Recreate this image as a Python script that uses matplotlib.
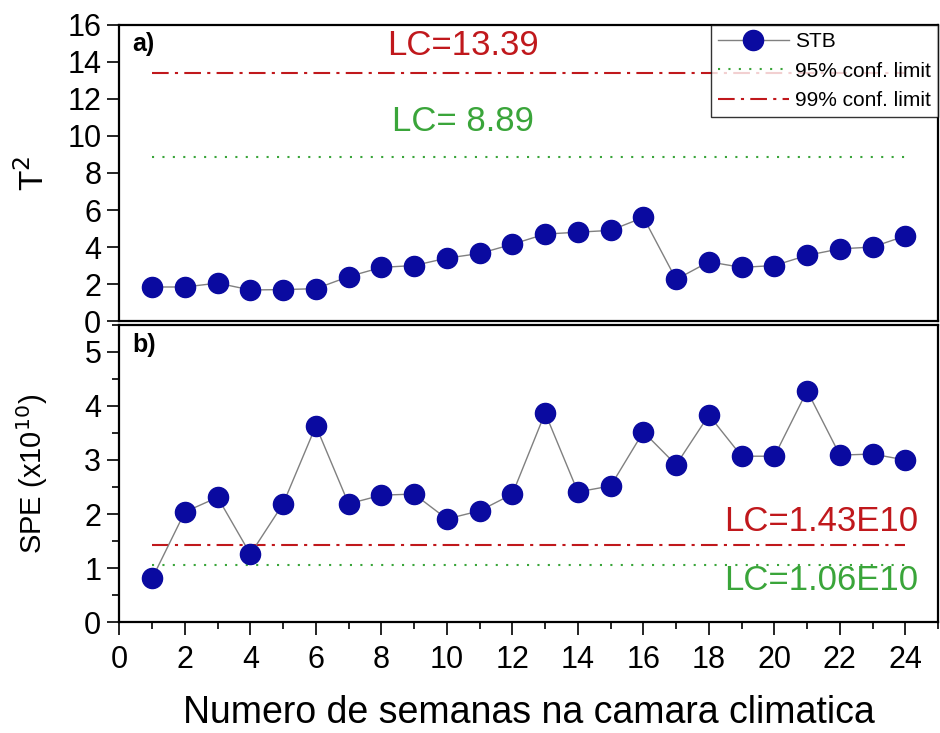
import matplotlib
matplotlib.use("Agg")
import matplotlib.pyplot as plt
from matplotlib.ticker import MultipleLocator

plt.rcParams['font.family'] = ['Liberation Sans', 'DejaVu Sans']

semanas = list(range(1, 25))
t2 = [1.84, 1.84, 2.05, 1.68, 1.70, 1.75, 2.40, 2.90, 3.00, 3.40, 3.65, 4.15,
      4.70, 4.80, 4.90, 5.60, 2.25, 3.20, 2.90, 3.00, 3.55, 3.90, 4.00, 4.60]
spe = [0.81, 2.04, 2.31, 1.26, 2.19, 3.63, 2.19, 2.35, 2.37, 1.91, 2.06, 2.37,
       3.87, 2.41, 2.52, 3.52, 2.91, 3.83, 3.07, 3.07, 4.28, 3.09, 3.11, 3.00]
lc_t2 = {'95': 8.89, '99': 13.39}
lc_spe = {'95': 1.06, '99': 1.43}

navy = '#0a0aa0'
red = '#c0181c'
green = '#3aa53a'

fig = plt.figure(figsize=(9.4, 7.33), dpi=100)
ax1 = fig.add_axes([0.127, 0.562, 0.871, 0.404])
ax2 = fig.add_axes([0.127, 0.151, 0.871, 0.406])

def style(ax):
    for s in ax.spines.values():
        s.set_linewidth(1.6)
    ax.tick_params(direction='out', width=1.2, length=9, labelsize=22, pad=4)
    ax.tick_params(which='minor', direction='out', width=1.2, length=5)
    ax.set_xlim(0, 25)

# a) T2
ax1.plot(semanas, t2, '-o', color='#808080', lw=1, mfc=navy, mec=navy, ms=14.5,
         label='STB', zorder=3)
ax1.plot([1, 24], [lc_t2['95']] * 2, ls=(0, (1, 4)), color=green, lw=1.5,
         label='95% conf. limit')
ax1.plot([1, 24], [lc_t2['99']] * 2, ls=(0, (8, 3, 1.5, 3)), color=red, lw=1.5,
         label='99% conf. limit')
style(ax1)
ax1.set_ylim(0, 16)
ax1.yaxis.set_major_locator(MultipleLocator(2))
ax1.set_xticks([])
ax1.set_ylabel('T$^2$', fontsize=24)
ax1.yaxis.set_label_coords(-0.083, 0.5)
ax1.text(0.4, 14.6, 'a)', fontsize=18, fontweight='bold')
ax1.text(10.5, 14.9, 'LC=13.39', color=red, fontsize=25, ha='center', va='center')
ax1.text(10.5, 10.8, 'LC= 8.89', color=green, fontsize=25, ha='center', va='center')
leg = ax1.legend(loc='upper right', fontsize=15, frameon=True, fancybox=False,
                 edgecolor='black', borderaxespad=0.0, handlelength=3.4,
                 handletextpad=0.3, labelspacing=0.5, borderpad=0.35)
leg.get_frame().set_linewidth(1)

# b) SPE
ax2.plot(semanas, spe, '-o', color='#808080', lw=1, mfc=navy, mec=navy, ms=14.5,
         zorder=3)
ax2.plot([1, 24], [lc_spe['95']] * 2, ls=(0, (1, 4)), color=green, lw=1.5)
ax2.plot([1, 24], [lc_spe['99']] * 2, ls=(0, (8, 3, 1.5, 3)), color=red, lw=1.5)
style(ax2)
ax2.tick_params(axis='x', pad=7)
ax2.set_ylim(0, 5.5)
ax2.yaxis.set_major_locator(MultipleLocator(1))
ax2.yaxis.set_minor_locator(MultipleLocator(0.5))
ax2.xaxis.set_major_locator(MultipleLocator(2))
ax2.xaxis.set_minor_locator(MultipleLocator(1))
ax2.set_ylabel('SPE (x10$^{10}$)', fontsize=21)
ax2.yaxis.set_label_coords(-0.085, 0.5)
ax2.text(0.4, 5.0, 'b)', fontsize=18, fontweight='bold')
ax2.text(24.4, 1.87, 'LC=1.43E10', color=red, fontsize=25, ha='right', va='center')
ax2.text(24.4, 0.78, 'LC=1.06E10', color=green, fontsize=25, ha='right', va='center')
ax2.set_xlabel('Numero de semanas na camara climatica', fontsize=27, labelpad=15)

fig.savefig('out.png', dpi=100)
